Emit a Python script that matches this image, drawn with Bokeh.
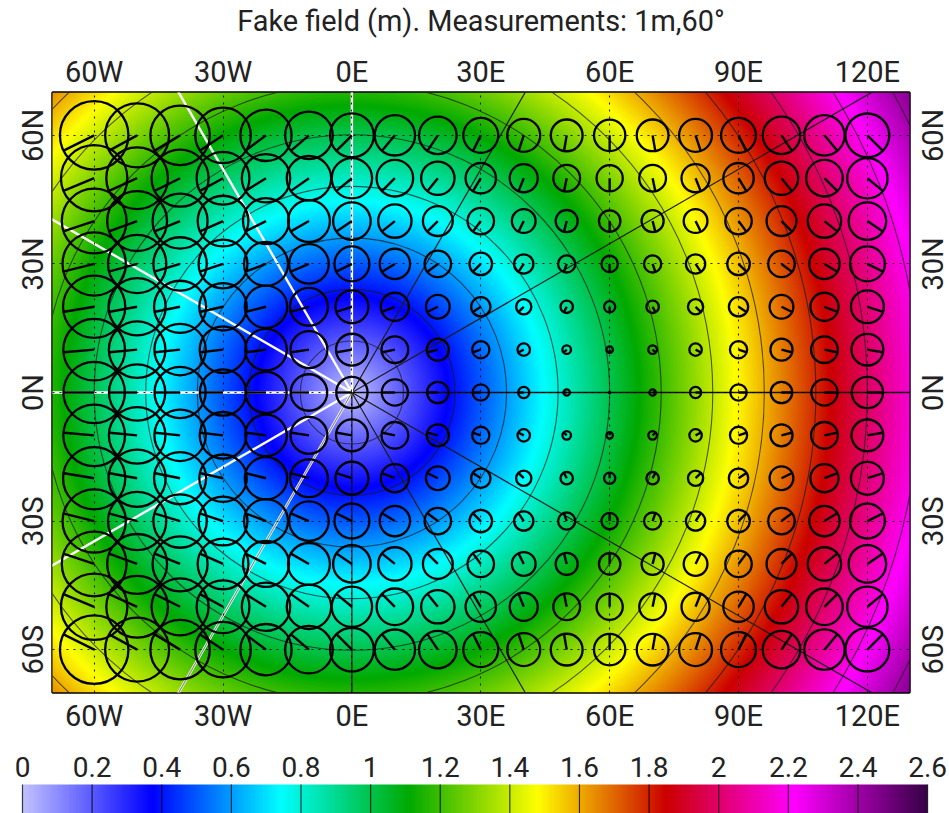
import numpy as np
from bokeh.plotting import figure
from bokeh.layouts import column, row
from bokeh.core.properties import value
from bokeh.models import LinearAxis, FixedTicker, LinearColorMapper, Range1d
from bokeh.embed import file_html
from bokeh.resources import INLINE

# --- data ---
title_text = "Fake field (m). Measurements: 1m,60°"
lon_ticks = [-60, -30, 0, 30, 60, 90, 120]
lon_labels = ["60W", "30W", "0E", "30E", "60E", "90E", "120E"]
lat_ticks = [-60, -30, 0, 30, 60]
lat_labels = ["60S", "30S", "0N", "30N", "60N"]

# field (m) at |lon| = 0,10,...,130 for each |lat| (picture mirrors about 0E and 0N)
field_lat0 = [0.000, 0.175, 0.349, 0.524, 0.698, 0.873, 1.047, 1.222, 1.396, 1.571, 1.745, 1.920, 2.094, 2.269]
field_lat10 = [0.175, 0.247, 0.390, 0.552, 0.720, 0.890, 1.062, 1.234, 1.407, 1.580, 1.754, 1.928, 2.102, 2.276]
field_lat20 = [0.349, 0.390, 0.494, 0.629, 0.781, 0.940, 1.104, 1.271, 1.439, 1.609, 1.780, 1.951, 2.123, 2.296]
field_lat30 = [0.524, 0.552, 0.629, 0.741, 0.873, 1.018, 1.171, 1.329, 1.491, 1.656, 1.822, 1.990, 2.159, 2.329]
field_lat40 = [0.698, 0.720, 0.781, 0.873, 0.987, 1.118, 1.259, 1.407, 1.561, 1.719, 1.880, 2.043, 2.208, 2.374]
field_lat50 = [0.873, 0.890, 0.940, 1.018, 1.118, 1.234, 1.363, 1.501, 1.647, 1.797, 1.951, 2.109, 2.269, 2.431]
field_lat60 = [1.047, 1.062, 1.104, 1.171, 1.259, 1.363, 1.481, 1.609, 1.745, 1.888, 2.035, 2.187, 2.342, 2.499]
field_lat70 = [1.222, 1.234, 1.271, 1.329, 1.407, 1.501, 1.609, 1.728, 1.855, 1.990, 2.130, 2.276, 2.425, 2.577]

# circle grid and the tick vector of every circle (deg), one offset per column / row
mark_lons = [-60, -50, -40, -30, -20, -10, 0, 10, 20, 30, 40, 50, 60, 70, 80, 90, 100, 110, 120]
mark_lats = [60, 50, 40, 30, 20, 10, 0, -10, -20, -30, -40, -50, -60]
tick_dx = [-7.0, -6.4, -5.8, -5.25, -4.65, -4.1, -3.5, -2.9, -2.35, -1.75, -1.15, -0.6, 0.0,
           0.6, 1.15, 1.75, 2.35, 2.9, 3.5]
tick_dy = [-3.5, -2.9, -2.35, -1.75, -1.15, -0.6, 0.0, 0.6, 1.15, 1.75, 2.35, 2.9, 3.5]

# polar overlay
ring_radii = [12, 24, 36, 48, 60, 72, 84, 96, 108, 120, 132, 144]
spoke_angles = [0, 30, 60, 90, 120, 150, 180, 210, 240, 270, 300, 330]
spoke_colors = ["#111111", "#1c1c1c", "#1c1c1c", "#ffffff", "#ffffff", "#ffffff",
                "#ffffff", "#ffffff", "#ffffff", "#111111", "#1c1c1c", "#1c1c1c"]
spoke_widths = [1.4, 1.2, 1.2, 2.4, 2.4, 2.4, 2.4, 2.4, 2.6, 1.2, 1.2, 1.2]
grey_spoke = [240]

# colour scale
cbar_ticks = [0, 0.2, 0.4, 0.6, 0.8, 1, 1.2, 1.4, 1.6, 1.8, 2, 2.2, 2.4, 2.6]
cbar_labels = ["0", "0.2", "0.4", "0.6", "0.8", "1", "1.2", "1.4", "1.6", "1.8", "2", "2.2", "2.4", "2.6"]
stop_values = [0.0, 0.37, 0.74, 1.11, 1.48, 1.85, 2.22, 2.6]
stop_colors = [(192, 192, 255), (0, 0, 255), (0, 255, 255), (0, 170, 0),
               (255, 255, 0), (204, 0, 0), (255, 0, 255), (56, 0, 72)]
map_color_top = 2.735  # on the map the same colours sit about 5% further out than on the bar

FONT = "Roboto"
TEXT = "#222222"
FS = "29px"
BAR_FS = "28px"


def make_palette(n=520):
    t = np.linspace(0, 2.6, n)
    rgb = [np.interp(t, stop_values, [c[k] for c in stop_colors]) for k in range(3)]
    return ["#%02x%02x%02x" % (int(r), int(g), int(b)) for r, g, b in zip(*rgb)]


def smooth_axis(a, n_out, axis):
    """Display smoothing of the read table to the pixel grid (Catmull-Rom)."""
    a = np.moveaxis(a, axis, 0)
    first = 3 * a[0] - 3 * a[1] + a[2]
    last = 3 * a[-1] - 3 * a[-2] + a[-3]
    p = np.concatenate([first[None], a, last[None]], axis=0)
    n = a.shape[0]
    t = (np.arange(n_out) + 0.5) / n_out * (n - 1)
    i = np.clip(np.floor(t).astype(int), 0, n - 2)
    f = t - i
    f = f.reshape((-1,) + (1,) * (a.ndim - 1))
    out = (p[i] * (-0.5 * f + f**2 - 0.5 * f**3)
           + p[i + 1] * (1 - 2.5 * f**2 + 1.5 * f**3)
           + p[i + 2] * (0.5 * f + 2 * f**2 - 1.5 * f**3)
           + p[i + 3] * (-0.5 * f**2 + 0.5 * f**3))
    return np.moveaxis(out, 0, axis)


field_rows = [field_lat0, field_lat10, field_lat20, field_lat30,
              field_lat40, field_lat50, field_lat60, field_lat70]
table = np.array([[field_rows[abs(la) // 10][abs(lo) // 10] for lo in range(-70, 131, 10)]
                  for la in range(-70, 71, 10)], dtype=float)
fine = np.sqrt(np.clip(smooth_axis(smooth_axis(table**2, 600, 0), 857, 1), 0, None)).astype("float32")

palette = make_palette()
map_mapper = LinearColorMapper(palette=palette, low=0, high=map_color_top)
bar_mapper = LinearColorMapper(palette=palette, low=0, high=2.6)


def strip(width, height, x_range, y_range, **borders):
    """Axis-less figure used for the texts around the map."""
    f = figure(width=width, height=height, output_backend="svg", toolbar_location=None,
               x_range=x_range, y_range=y_range, x_axis_location=None, y_axis_location=None,
               frame_align=False, **borders)
    f.outline_line_color = None
    f.xgrid.visible = False
    f.ygrid.visible = False
    return f


# --- title ---
head = strip(949, 40, Range1d(0, 949), Range1d(0, 40), min_border=0)
head.text(x=[480.5], y=[20], text=[title_text], text_align="center", text_baseline="middle",
          text_font=value(FONT), text_font_size="28.9px", text_color=TEXT)

# --- map ---
p = figure(width=863, height=705, output_backend="svg", toolbar_location=None,
           x_range=Range1d(-69.7, 129.8), y_range=Range1d(-70, 70),
           min_border_left=3, min_border_right=3, min_border_top=52, min_border_bottom=53,
           x_axis_location="below", y_axis_location=None, frame_align=False)
p.outline_line_color = "black"
p.outline_line_width = 2.5
p.background_fill_color = None
p.border_fill_color = "white"

p.image(image=[fine], x=-70, y=-70, dw=200, dh=140, color_mapper=map_mapper)

mx, my, mdx, mdy = [], [], [], []
for j, la in enumerate(mark_lats):
    for i, lo in enumerate(mark_lons):
        mx.append(lo); my.append(la); mdx.append(tick_dx[i]); mdy.append(tick_dy[j])
mx, my, mdx, mdy = map(np.array, (mx, my, mdx, mdy))

p.circle(x=[0.0] * len(ring_radii), y=[0.0] * len(ring_radii), radius=ring_radii,
         fill_color=None, line_color="#1a1a1a", line_alpha=0.7, line_width=1.1)
p.ray(x=[0.0] * len(spoke_angles), y=[0.0] * len(spoke_angles), length=0,
      angle=spoke_angles, angle_units="deg", line_color=spoke_colors, line_width=spoke_widths)
p.ray(x=[0.0] * len(grey_spoke), y=[0.0] * len(grey_spoke), length=0,
      angle=grey_spoke, angle_units="deg", line_color="#888888", line_width=1.2)

p.circle(x=mx, y=my, radius=np.hypot(mdx, mdy) + 0.15, fill_color=None,
         line_color="black", line_width=2.3)
p.segment(x0=mx, y0=my, x1=mx + mdx, y1=my + mdy, line_color="black", line_width=2.4)


def style_axis(ax, ticks, labels, standoff):
    ax.ticker = FixedTicker(ticks=ticks)
    ax.major_label_overrides = dict(zip(ticks, labels))
    ax.major_tick_line_color = None
    ax.minor_tick_line_color = None
    ax.axis_line_color = None
    ax.major_label_text_font = FONT
    ax.major_label_text_font_size = FS
    ax.major_label_text_color = TEXT
    ax.major_label_standoff = standoff


style_axis(p.xaxis[0], lon_ticks, lon_labels, 0)
top_ax = LinearAxis()
style_axis(top_ax, lon_ticks, lon_labels, -2)
p.add_layout(top_ax, "above")

p.xgrid.ticker = FixedTicker(ticks=lon_ticks)
p.ygrid.ticker = FixedTicker(ticks=lat_ticks)
for g in (p.xgrid[0], p.ygrid[0]):
    g.level = "guide"
    g.grid_line_color = "black"
    g.grid_line_alpha = 0.85
    g.grid_line_width = 1.1
    g.grid_line_dash = "2 5"

# --- latitude labels: strips beside the map, sharing its latitude scale, reading bottom-up ---
left = strip(49, 705, Range1d(0, 49), p.y_range, min_border_left=0, min_border_right=0,
             min_border_top=52, min_border_bottom=53)
right = strip(37, 705, Range1d(0, 37), p.y_range, min_border_left=0, min_border_right=0,
              min_border_top=52, min_border_bottom=53)
for f, x_mid in ((left, 32), (right, 20)):
    f.text(x=[x_mid] * len(lat_ticks), y=lat_ticks, text=lat_labels, angle=90, angle_units="deg",
           text_align="center", text_baseline="middle", text_font=value(FONT),
           text_font_size=FS, text_color=TEXT)

# --- colour bar: the frame fills the figure, labels are text glyphs over the bar ---
cb = strip(949, 68, Range1d(-0.0632, 2.663), Range1d(0, 68), min_border=0)
ramp = np.linspace(0, 2.6, 905, dtype="float32")[None, :]
cb.image(image=[ramp], x=0, y=0, dw=2.6, dh=29, color_mapper=bar_mapper)
cb.segment(x0=cbar_ticks, x1=cbar_ticks, y0=[0] * len(cbar_ticks), y1=[29] * len(cbar_ticks),
           line_color="black", line_alpha=0.75, line_width=1.2)
cb.text(x=cbar_ticks, y=[37] * len(cbar_ticks), text=cbar_labels, text_align="center",
        text_baseline="bottom", text_font=value(FONT), text_font_size=BAR_FS, text_color=TEXT)

page = column(head, row(left, p, right, spacing=0), cb, spacing=0)
open("out.html", "w").write(file_html(page, INLINE))
